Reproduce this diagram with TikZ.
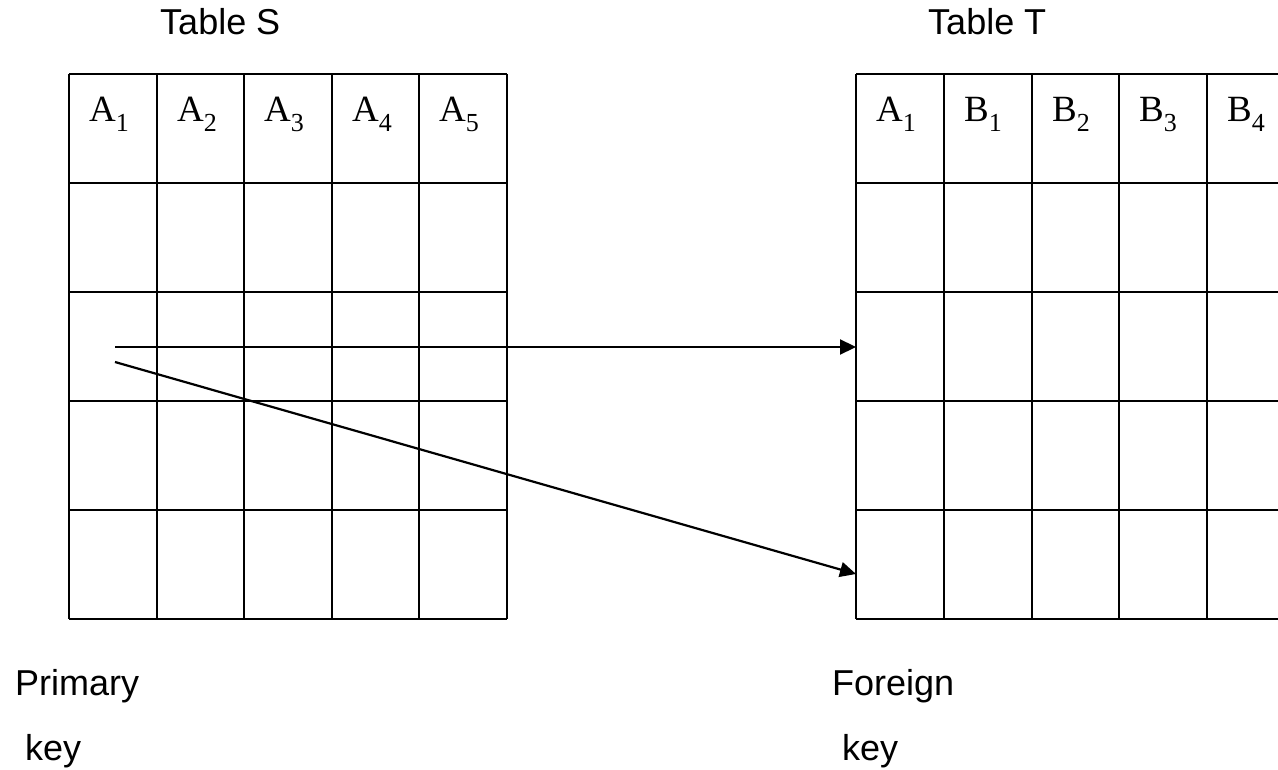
\documentclass[tikz,border=0pt]{standalone}
\usepackage{fontspec}
\setmainfont{Liberation Sans}
\newfontfamily\hdrfont{Liberation Serif}
\usetikzlibrary{arrows.meta}
\tikzset{
  gridline/.style={line width=2.5pt, black},
  link/.style={line width=2.2pt, black, -{Triangle[length=16pt,width=15pt]}},
  title/.style={anchor=base west, inner sep=0pt, font=\fontsize{36}{40}\selectfont},
  hdr/.style={anchor=base west, inner sep=0pt, font=\hdrfont\fontsize{37}{40}\selectfont}
}
\newcommand{\hd}[2]{#1\raisebox{-10pt}{\fontsize{26}{28}\selectfont #2}}
\begin{document}
\begin{tikzpicture}[x=1pt,y=-1pt]
\useasboundingbox (0,0) rectangle (1278,770);
\clip (0,0) rectangle (1278,770);
% Table S grid
\foreach \x in {69,157,244,332,419,507} \draw[gridline] (\x,74) -- (\x,619);
\foreach \y in {74,183,292,401,510,619} \draw[gridline] (69,\y) -- (507,\y);
% Table T grid
\foreach \x in {856,944,1032,1119,1207,1295} \draw[gridline] (\x,74) -- (\x,619);
\foreach \y in {74,183,292,401,510,619} \draw[gridline] (856,\y) -- (1295,\y);
% titles
\node[title] (ts) at (160,35) {Table S};
\node[title] (tt) at (928,35) {Table T};
\node[title] (pk1) at (15,695) {Primary};
\node[title] (pk2) at (25,760) {key};
\node[title] (fk1) at (832,695) {Foreign};
\node[title] (fk2) at (842,760) {key};
% headers S
\node[hdr] (sa1) at (89,122) {\hd{A}{1}};
\node[hdr] (sa2) at (177,122) {\hd{A}{2}};
\node[hdr] (sa3) at (264,122) {\hd{A}{3}};
\node[hdr] (sa4) at (352,122) {\hd{A}{4}};
\node[hdr] (sa5) at (439,122) {\hd{A}{5}};
% headers T
\node[hdr] (ta1) at (876,122) {\hd{A}{1}};
\node[hdr] (tb1) at (964,122) {\hd{B}{1}};
\node[hdr] (tb2) at (1052,122) {\hd{B}{2}};
\node[hdr] (tb3) at (1139,122) {\hd{B}{3}};
\node[hdr] (tb4) at (1227,122) {\hd{B}{4}};
% connectors
\coordinate (s1) at (115,347);
\coordinate (s2) at (115,362);
\coordinate (t1) at (856,347);
\coordinate (t2) at (856,574);
\draw[link] (s1) -- (t1);
\draw[link] (s2) -- (t2);
\end{tikzpicture}
\end{document}
